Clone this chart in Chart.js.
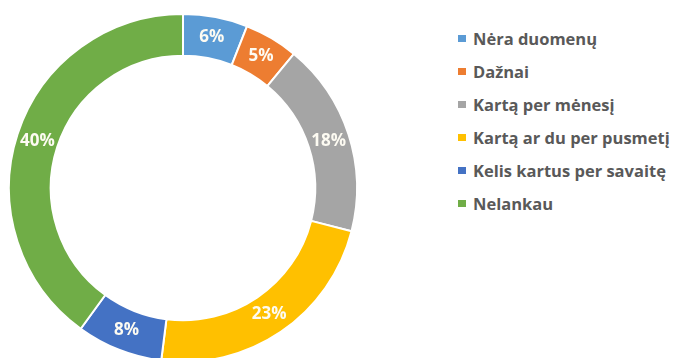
<!DOCTYPE html>
<html>
<head>
<meta charset="utf-8">
<script src="https://cdn.jsdelivr.net/npm/chart.js@4/dist/chart.umd.min.js"></script>
<style>
    html, body { margin: 0; padding: 0; background: #fff; overflow: hidden; width: 680px; height: 358px; }
    #wrap { position: absolute; left: 0; top: 0; width: 366px; height: 376px; }
    #legend { position: absolute; left: 458px; top: 27px; margin: 0; padding: 0; list-style: none;
              font-family: 'Open Sans', sans-serif; font-weight: bold; font-size: 16.5px; color: #595959; white-space: nowrap; }
    #legend li { height: 33px; line-height: 24px; }
    #legend span { display: inline-block; width: 8px; height: 7px; margin-right: 7px; vertical-align: 3px; }
</style>
</head>
<body>
<div id="wrap"><canvas id="canvas2" width="366" height="376"></canvas></div>
<ul id="legend"></ul>
<script>
var labels = [
    'Nėra duomenų',
    'Dažnai',
    'Kartą per mėnesį',
    'Kartą ar du per pusmetį',
    'Kelis kartus per savaitę',
    'Nelankau'
];
var shares = [6, 5, 18, 23, 8, 40];
var colors = ['#5B9BD5', '#ED7D31', '#A5A5A5', '#FFC000', '#4472C4', '#70AD47'];

// percent labels in the middle of each ring segment
var sliceLabels = {
    id: 'sliceLabels',
    afterDatasetsDraw: function(chart) {
        var ctx = chart.ctx;
        var meta = chart.getDatasetMeta(0);
        ctx.save();
        ctx.font = 'bold 17px "Open Sans", sans-serif';
        ctx.fillStyle = '#fdfbf2';
        ctx.textAlign = 'center';
        ctx.textBaseline = 'middle';
        meta.data.forEach(function(arc, i) {
            var p = arc.getCenterPoint();
            ctx.fillText(shares[i] + '%', p.x, p.y);
        });
        ctx.restore();
    }
};

var config1 = {
    type: 'doughnut',
    data: {
        labels: labels,
        datasets: [{
            data: shares,
            backgroundColor: colors,
            borderColor: '#ffffff',
            borderWidth: 2
        }]
    },
    options: {
        responsive: false,
        animation: false,
        cutout: '76%',
        layout: { padding: { left: 8, right: 8, top: 13, bottom: 13 } },
        plugins: {
            legend: { display: false },
            tooltip: { enabled: false }
        }
    },
    plugins: [sliceLabels]
};

function loadDonutChart() {
    var ctx = document.getElementById('canvas2').getContext('2d');
    window.myDoughnut = new Chart(ctx, config1);

    var list = document.getElementById('legend');
    labels.forEach(function(name, i) {
        var li = document.createElement('li');
        var box = document.createElement('span');
        box.style.background = colors[i];
        li.appendChild(box);
        li.appendChild(document.createTextNode(name));
        list.appendChild(li);
    });
}

loadDonutChart();
</script>
</body>
</html>
